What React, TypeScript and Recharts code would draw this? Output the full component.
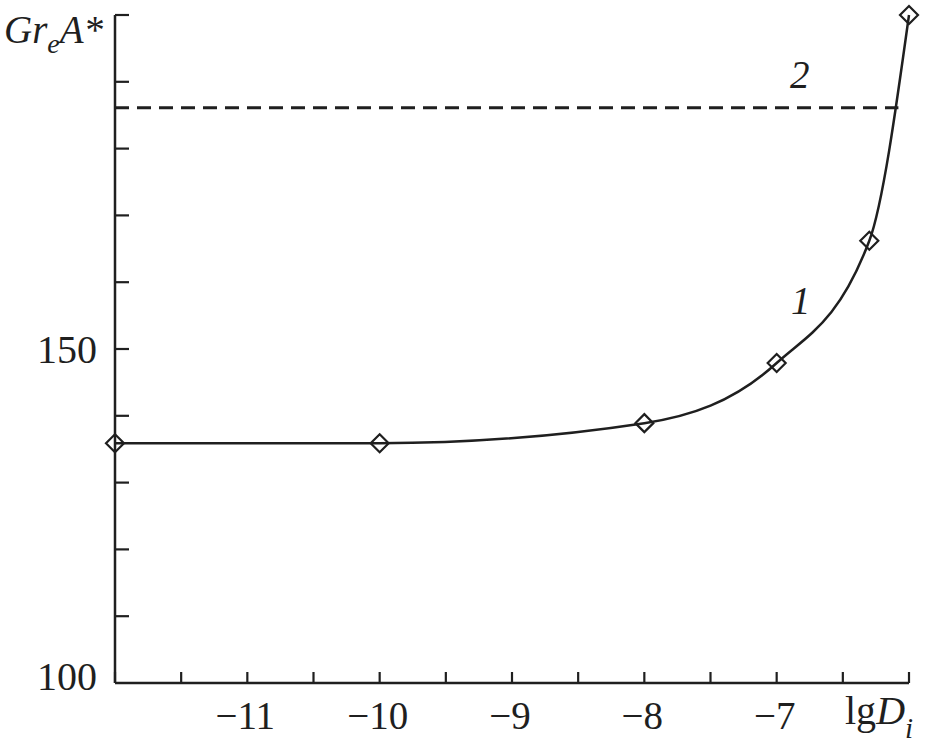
import React from 'react';
import { LineChart, Line, XAxis, YAxis } from 'recharts';

// curve 1 (markers) and the dashed level 2
const lgD = [-12, -10, -8, -7, -6.3, -6];
const greA = [135.9, 135.9, 138.9, 147.9, 166.2, 200];
const levelX = [-12, -6.08];
const levelY = [186.1, 186.1];

const xTicks = [-12, -11.5, -11, -10.5, -10, -9.5, -9, -8.5, -8, -7.5, -7, -6.5, -6];
const xLabels = ['', '', '−11', '', '−10', '', '−9', '', '−8', '', '−7', '', 'lgD'];
const yTicks = [100, 110, 120, 130, 140, 150, 160, 170, 180, 190, 200];
const yLabels = ['100', '', '', '', '', '150', '', '', '', '', ''];

const curveData = lgD.map((x, i) => ({ x, y: greA[i] }));
const levelData = levelX.map((x, i) => ({ x, y: levelY[i] }));

const INK = '#1f1f1f';
const FONT = '"Liberation Serif", "Times New Roman", serif';

const XTick = (props: any) => {
  const { x, y, payload } = props;
  const idx = xTicks.indexOf(payload.value);
  const label = xLabels[idx];
  return (
    <g>
      <line x1={x} y1={y} x2={x} y2={y - 11} stroke={INK} strokeWidth={2.2} />
      {label === 'lgD' ? (
        <text x={x - 64} y={y + 41} textAnchor="start" fontFamily={FONT} fontSize={40} fill={INK}>
          lg<tspan fontStyle="italic">D</tspan>
          <tspan fontStyle="italic" fontSize={29} dy={14}>i</tspan>
        </text>
      ) : label ? (
        <text x={x - 2} y={y + 46} textAnchor="middle" fontFamily={FONT} fontSize={39} fill={INK}>
          {label}
        </text>
      ) : null}
    </g>
  );
};

const YTick = (props: any) => {
  const { x, y, payload } = props;
  const idx = yTicks.indexOf(payload.value);
  const label = yLabels[idx];
  return (
    <g>
      {payload.value !== 100 && (
        <line x1={x} y1={y} x2={x + 14} y2={y} stroke={INK} strokeWidth={2.2} />
      )}
      {label && (
        <text
          x={x - 18}
          y={payload.value === 100 ? y + 7 : y + 14}
          textAnchor="end"
          fontFamily={FONT}
          fontSize={40}
          fill={INK}
        >
          {label}
        </text>
      )}
    </g>
  );
};

const Diamond = (props: any) => {
  const { cx, cy, index } = props;
  const r = 9;
  return (
    <path
      key={`d-${index}`}
      d={`M${cx},${cy - r} L${cx + r},${cy} L${cx},${cy + r} L${cx - r},${cy} Z`}
      fill="none"
      stroke={INK}
      strokeWidth={2.2}
    />
  );
};

const textStyle: React.CSSProperties = {
  position: 'absolute',
  fontFamily: FONT,
  fontSize: 39,
  fontStyle: 'italic',
  color: INK,
  lineHeight: 1,
  whiteSpace: 'nowrap',
};

export default function App() {
  return (
    <div style={{ position: 'absolute', left: 0, top: 0, width: 926, height: 751, background: '#fff' }}>
      <LineChart
        width={926}
        height={751}
        margin={{ top: 15, right: 17, bottom: 0, left: 0 }}
      >
        <XAxis
          type="number"
          dataKey="x"
          domain={[-12, -6]}
          ticks={xTicks}
          interval={0}
          height={68}
          tickSize={0}
          tickMargin={0}
          tickLine={false}
          axisLine={{ stroke: INK, strokeWidth: 2.5 }}
          tick={<XTick />}
          allowDecimals
        />
        <YAxis
          type="number"
          dataKey="y"
          domain={[100, 200]}
          ticks={yTicks}
          interval={0}
          width={115}
          tickSize={0}
          tickMargin={0}
          tickLine={false}
          axisLine={{ stroke: INK, strokeWidth: 2.5 }}
          tick={<YTick />}
        />
        <Line
          data={levelData}
          dataKey="y"
          type="linear"
          stroke={INK}
          strokeWidth={3}
          strokeDasharray="14 8"
          dot={false}
          isAnimationActive={false}
        />
        <Line
          data={curveData}
          dataKey="y"
          type="monotone"
          stroke={INK}
          strokeWidth={2.5}
          dot={<Diamond />}
          isAnimationActive={false}
        />
      </LineChart>
      <div style={{ ...textStyle, left: 4, top: 10 }}>
        Gr<span style={{ fontSize: 28, position: 'relative', top: 10 }}>e</span>A*
      </div>
      <div style={{ ...textStyle, left: 790, top: 55 }}>2</div>
      <div style={{ ...textStyle, left: 791, top: 281 }}>1</div>
    </div>
  );
}
